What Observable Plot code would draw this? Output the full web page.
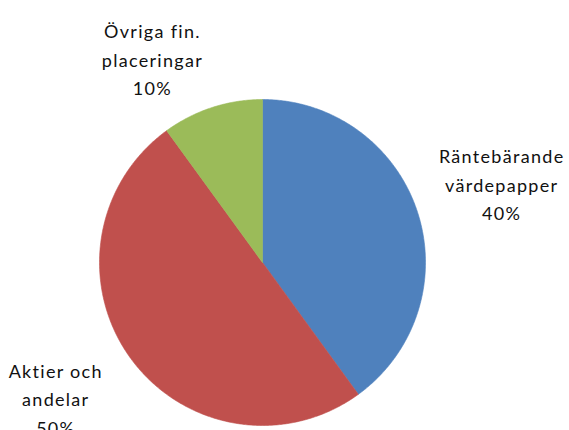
<!DOCTYPE html>
<html><head><meta charset="utf-8">
<script src="https://cdn.jsdelivr.net/npm/d3@7"></script>
<script src="https://cdn.jsdelivr.net/npm/@observablehq/plot@0.6"></script>
<style>html,body{margin:0;padding:0;background:#fff;overflow:hidden}</style>
</head><body><div id="chart"></div>
<script>
const categories = ["Räntebärande\nvärdepapper", "Aktier och\nandelar", "Övriga fin.\nplaceringar"];
const shares = [40, 50, 10];
const colors = ["#4F81BD", "#C0504D", "#9BBB59"];

const pie = d3.pie().sort(null).value(d => d)(shares);
const outline = [];
pie.forEach((s, i) => {
  outline.push({k: categories[i], x: 0, y: 0});
  const n = Math.ceil((s.endAngle - s.startAngle) / (Math.PI / 360));
  for (let j = 0; j <= n; j++) {
    const a = s.startAngle + (s.endAngle - s.startAngle) * j / n;
    outline.push({k: categories[i], x: Math.sin(a), y: Math.cos(a)});
  }
  outline.push({k: categories[i], x: 0, y: 0});
});
const labels = pie.map((s, i) => {
  const a = (s.startAngle + s.endAngle) / 2;
  return {k: categories[i], x: 1.53 * Math.sin(a), y: 1.53 * Math.cos(a), text: categories[i] + "\n" + shares[i] + "%"};
});
const nudges = [[2, -3], [-5, -12], [-33, 32]];

const textOpts = {x: "x", y: "y", text: "text", fontSize: 18, lineHeight: 1.6, fill: "#111", textAnchor: "middle"};
const chart = Plot.plot({
  width: 569, height: 430,
  margin: 0,
  x: {domain: [-1, 1], range: [99, 425], axis: null},
  y: {domain: [-1, 1], range: [425, 99], axis: null},
  color: {domain: categories, range: colors},
  style: {fontFamily: "Lato", letterSpacing: "1.3px", background: "#fff", overflow: "visible"},
  marks: [
    Plot.line(outline, {x: "x", y: "y", z: "k", fill: "k", stroke: "k", strokeWidth: 0.6, curve: "linear"}),
    ...labels.map((l, i) => Plot.text([l], {...textOpts, dx: nudges[i][0], dy: nudges[i][1]}))
  ]
});
document.getElementById("chart").appendChild(chart);
</script>
</body></html>
